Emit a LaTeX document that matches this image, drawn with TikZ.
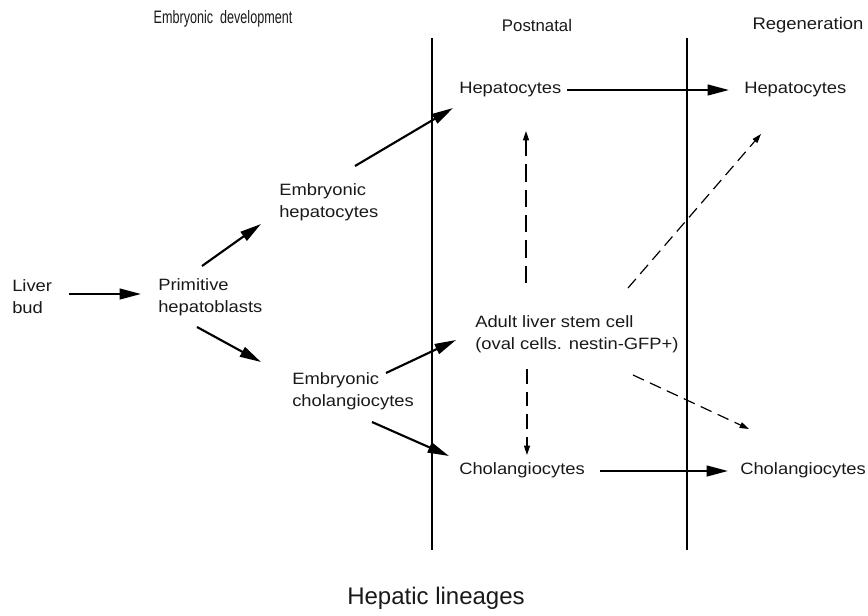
\documentclass[tikz,border=0pt]{standalone}
\usepackage{fontspec}
\setmainfont{Liberation Sans}
\newfontfamily\bodyf[FakeStretch=1.12]{Liberation Sans}
\newfontfamily\headf[FakeStretch=0.7]{Liberation Sans}
\newfontfamily\regf[FakeStretch=1.1]{Liberation Sans}
\usetikzlibrary{arrows.meta,calc}
\begin{document}
\begin{tikzpicture}[x=0.75pt,y=-0.75pt,
  lbl/.style={inner sep=0pt,anchor=west,align=left,font=\bodyf\fontsize{12.3}{16.5}\selectfont,text=black!90},
  head/.style={inner sep=0pt,font=\fontsize{12.6}{14}\selectfont,text=black!90},
  arr/.style={line width=1.6pt,-{Triangle[length=16pt,width=8pt]}},
  darr/.style={line width=0.9pt,dash pattern=on 9pt off 5pt,-{Triangle[length=7pt,width=4.5pt]}},
  divider/.style={line width=1.1pt}]
\useasboundingbox (0,0) rectangle (868,615);
% headers
\node[head,font=\headf\fontsize{13.5}{15}\selectfont] (hemb) at (223,19) {Embryonic\ \ development};
\node[head] (hpost) at (537,25) {Postnatal};
\node[head,font=\regf\fontsize{12.6}{14}\selectfont] (hreg) at (808,25) {Regeneration};
% dividers
\coordinate (l1t) at (432,38); \coordinate (l1b) at (432,550);
\coordinate (l2t) at (687,38); \coordinate (l2b) at (687,550);
\draw[divider] (l1t) -- (l1b);
\draw[divider] (l2t) -- (l2b);
% nodes
\node[lbl] (liver) at (12,297) {Liver\\bud};
\node[lbl] (prim) at (158,297) {Primitive\\hepatoblasts};
\node[lbl] (ehep) at (279,202) {Embryonic\\hepatocytes};
\node[lbl] (echol) at (292,391) {Embryonic\\cholangiocytes};
\node[lbl] (hep1) at (459,90) {Hepatocytes};
\node[lbl] (hep2) at (744,90) {Hepatocytes};
\node[lbl] (stem) at (475,334) {Adult liver stem cell\\(oval cells. nestin-GFP+)};
\node[lbl] (chol1) at (459,470) {Cholangiocytes};
\node[lbl] (chol2) at (740,470) {Cholangiocytes};
\node[inner sep=0pt,font=\fontsize{18}{20}\selectfont,text=black!90] (title) at (436,598) {Hepatic lineages};
% arrow end points
\coordinate (a1s) at (69,294);  \coordinate (a1e) at (141,294);
\coordinate (a2s) at (202,266); \coordinate (a2e) at (261,224);
\coordinate (a3s) at (197,327); \coordinate (a3e) at (261,362);
\coordinate (a4s) at (355,166); \coordinate (a4e) at (453,108);
\coordinate (a5s) at (386,373); \coordinate (a5e) at (456,340);
\coordinate (a6s) at (372,422); \coordinate (a6e) at (449,456);
\coordinate (a7s) at (567,90);  \coordinate (a7e) at (729,90);
\coordinate (a8s) at (600,471); \coordinate (a8e) at (728,471);
\coordinate (d1s) at (526,283); \coordinate (d1e) at (526,131);
\coordinate (d2s) at (527,369); \coordinate (d2e) at (527,455);
\coordinate (d3s) at (628,288); \coordinate (d3e) at (761,134);
\coordinate (d4s) at (633,375); \coordinate (d4e) at (749,429);
% solid arrows
\draw[arr] (a1s) -- (a1e);
\draw[arr] (a2s) -- (a2e);
\draw[arr] (a3s) -- (a3e);
\draw[arr] (a4s) -- (a4e);
\draw[arr] (a5s) -- (a5e);
\draw[arr] (a6s) -- (a6e);
\draw[arr] (a7s) -- (a7e);
\draw[arr] (a8s) -- (a8e);
% dashed arrows
\draw[darr,dash pattern=on 13pt off 6pt] (d1s) -- (d1e);
\draw[darr,dash pattern=on 11pt off 6pt] (d2s) -- (d2e);
\draw[darr] (d3s) -- (d3e);
\draw[darr] (d4s) -- (d4e);
\end{tikzpicture}
\end{document}
